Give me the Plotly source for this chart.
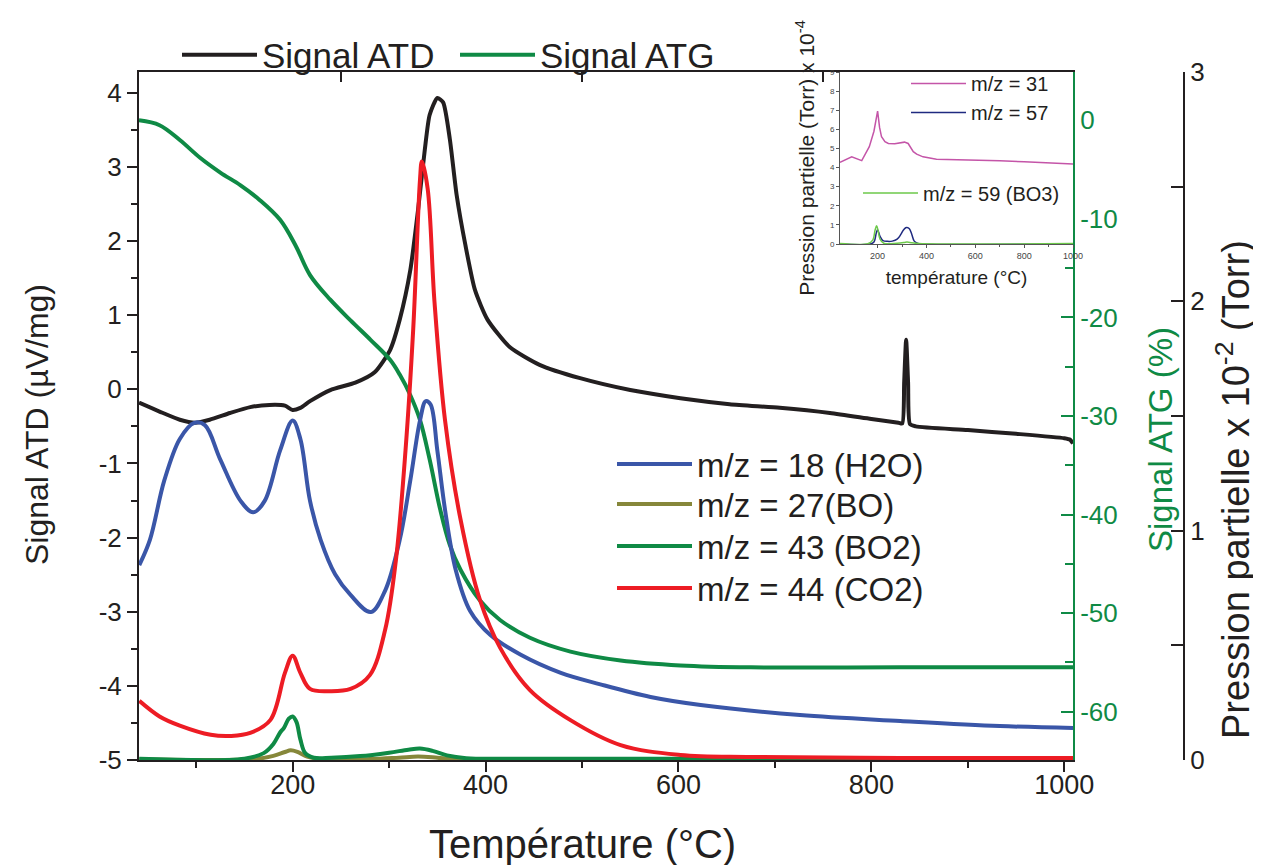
import plotly.graph_objects as go

# ---------------- data ----------------
# DTA signal (µV/mg)
T_atd = [40.7, 62, 83, 99, 114, 135, 156, 176, 192, 200, 208, 218, 239, 265, 285, 301, 311, 322, 330, 337, 342,
         350, 356, 363, 370, 379, 389, 402, 425, 456, 498, 550, 602, 653, 705, 757, 800, 828, 832, 834, 836,
         838, 840, 846, 900, 950, 1000, 1006, 1009]
atd = [-0.18, -0.30, -0.41, -0.45, -0.41, -0.32, -0.24, -0.21, -0.22, -0.28, -0.25, -0.16, -0.01, 0.09, 0.23, 0.53,
       0.94, 1.61, 2.42, 3.23, 3.70, 3.93, 3.87, 3.37, 2.62, 1.95, 1.34, 0.94, 0.57, 0.33, 0.15, -0.01, -0.12, -0.20,
       -0.25, -0.32, -0.40, -0.45, -0.46, 0.1, 0.67, 0.1, -0.47, -0.50, -0.55, -0.60, -0.66, -0.68, -0.73]

# TGA signal (%)
T_atg = [40.7, 62, 83, 104, 125, 146, 166, 187, 203, 218, 239, 260, 281, 301, 311, 322, 332, 342, 353, 363, 374,
         394, 415, 446, 488, 540, 602, 675, 830, 1009]
atg = [0.0, -0.5, -2.0, -3.8, -5.3, -6.6, -8.1, -10.1, -12.7, -15.7, -18.2, -20.3, -22.3, -24.3, -25.8, -27.9,
       -30.4, -34.4, -39.5, -43.1, -45.6, -48.7, -50.7, -52.5, -53.9, -54.8, -55.3, -55.5, -55.5, -55.5]

# Mass spectrometry, partial pressure x 1e-2 Torr
T_h2o = [41, 52, 67, 83, 98, 109, 125, 146, 159, 171, 187, 200, 208, 218, 229, 244, 260, 281, 296, 311, 322, 332,
         338, 343, 350, 358, 369, 384, 405, 436, 478, 519, 571, 623, 726, 830, 933, 1009]
p_h2o = [0.85, 0.96, 1.22, 1.40, 1.47, 1.46, 1.31, 1.13, 1.08, 1.13, 1.35, 1.48, 1.40, 1.13, 0.96, 0.81, 0.72,
         0.645, 0.74, 0.96, 1.22, 1.48, 1.565, 1.55, 1.35, 1.09, 0.83, 0.65, 0.545, 0.46, 0.38, 0.33, 0.275, 0.24,
         0.196, 0.17, 0.148, 0.14]

T_bo = [41, 160, 180, 192, 198, 205, 215, 230, 280, 310, 330, 350, 370, 1009]
p_bo = [0.003, 0.004, 0.018, 0.035, 0.042, 0.035, 0.015, 0.004, 0.004, 0.01, 0.015, 0.01, 0.003, 0.003]

T_bo2 = [41, 150, 170, 180, 187, 191, 196, 200, 204, 208, 213, 222, 240, 270, 300, 320, 332, 345, 360, 380, 420, 1009]
p_bo2 = [0.005, 0.006, 0.03, 0.07, 0.12, 0.14, 0.18, 0.19, 0.165, 0.09, 0.03, 0.01, 0.01, 0.017, 0.032, 0.045,
         0.05, 0.04, 0.02, 0.008, 0.005, 0.005]

T_co2 = [41, 62, 83, 115, 136, 156, 177, 192, 200, 208, 218, 239, 260, 280, 296, 307, 317, 325, 332, 334, 340, 347,
         358, 374, 394, 415, 446, 488, 540, 602, 675, 830, 1009]
p_co2 = [0.258, 0.19, 0.15, 0.11, 0.105, 0.118, 0.175, 0.38, 0.455, 0.38, 0.31, 0.30, 0.31, 0.37, 0.57, 0.87, 1.35,
         1.88, 2.53, 2.61, 2.49, 2.0, 1.48, 1.05, 0.70, 0.49, 0.305, 0.174, 0.065, 0.022, 0.013, 0.009, 0.009]

# Inset, partial pressure x 1e-4 Torr
T_31 = [46, 94, 135, 166, 185, 200, 208, 216, 230, 244, 270, 291, 310, 325, 335, 346, 360, 386, 441, 520, 618, 700,
        800, 890, 950, 1000]
p_31 = [4.27, 4.56, 4.36, 5.09, 5.9, 6.95, 6.1, 5.61, 5.35, 5.26, 5.25, 5.30, 5.33, 5.26, 5.05, 4.83, 4.70, 4.56,
        4.43, 4.42, 4.39, 4.36, 4.30, 4.25, 4.20, 4.18]
T_57 = [46, 170, 185, 195, 200, 210, 222, 240, 260, 280, 295, 305, 315, 320, 330, 340, 350, 365, 380, 1000]
p_57 = [0.0, 0.0, 0.1, 0.6, 0.75, 0.4, 0.18, 0.14, 0.15, 0.25, 0.5, 0.72, 0.85, 0.86, 0.8, 0.5, 0.15, 0.03, 0.0, 0.0]
T_59 = [46, 160, 180, 190, 196, 202, 210, 225, 280, 310, 320, 340, 370, 1000]
p_59 = [0.02, 0.02, 0.2, 0.75, 0.95, 0.7, 0.25, 0.04, 0.04, 0.08, 0.1, 0.07, 0.03, 0.02]

main_ticks = [200, 400, 600, 800, 1000]
atd_ticks = [-5, -4, -3, -2, -1, 0, 1, 2, 3, 4]
atd_ticktext = ["-5", "-4", "-3", "-2", "-1", "0", "1", "2", "3", "4"]
atg_ticks = [0, -10, -20, -30, -40, -50, -60]
atg_ticktext = ["0", "-10", "-20", "-30", "-40", "-50", "-60"]
p_tickvals = [0, 1, 2, 3]
inset_xticks = [200, 400, 600, 800, 1000]

# ---------------- styling ----------------
BLACK = "#231f20"
GREEN = "#0f8a45"
BLUE = "#3a56a8"
OLIVE = "#86873a"
GREEN2 = "#0f8a45"
RED = "#ed1c24"
MAGENTA = "#c455a8"
NAVY = "#1f2a80"
LGREEN = "#6cc84a"
FONT = "Arial"

# the page body has an 8px margin: work in screen pixels and shift
OFF = 8
W, H = 1261 - OFF, 865 - OFF
L = 139 - OFF           # screen x of left axis = 139
T = 72 - OFF            # screen y of top axis = 72
B = H - (760 - OFF)     # screen y of bottom axis = 760
R = 10
PW = W - L - R
PH = H - T - B


def px(xs):
    return (xs - OFF - L) / PW


def py(ys):
    return (H - B - (ys - OFF)) / PH


fig = go.Figure()

fig.add_trace(go.Scatter(x=T_atg, y=atg, mode="lines", name="Signal ATG", line=dict(color=GREEN, width=4),
                         xaxis="x", yaxis="y2", legend="legend", legendrank=2, line_shape="spline"))
fig.add_trace(go.Scatter(x=T_atd, y=atd, mode="lines", name="Signal ATD",
                         line=dict(color=BLACK, width=4, shape="spline", smoothing=0.6),
                         xaxis="x", yaxis="y", legend="legend", legendrank=1))
fig.add_trace(go.Scatter(x=T_h2o, y=p_h2o, mode="lines", name="m/z = 18 (H2O)", line=dict(color=BLUE, width=4),
                         xaxis="x", yaxis="y3", legend="legend2", line_shape="spline"))
fig.add_trace(go.Scatter(x=T_bo, y=p_bo, mode="lines", name="m/z = 27(BO)", line=dict(color=OLIVE, width=4),
                         xaxis="x", yaxis="y3", legend="legend5", line_shape="spline"))
fig.add_trace(go.Scatter(x=T_bo2, y=p_bo2, mode="lines", name="m/z = 43 (BO2)", line=dict(color=GREEN2, width=4),
                         xaxis="x", yaxis="y3", legend="legend6", line_shape="spline"))
fig.add_trace(go.Scatter(x=T_co2, y=p_co2, mode="lines", name="m/z = 44 (CO2)", line=dict(color=RED, width=4),
                         xaxis="x", yaxis="y3", legend="legend7", line_shape="spline"))
# dummy trace for the top axis
fig.add_trace(go.Scatter(x=[None], y=[None], xaxis="x2", yaxis="y", showlegend=False, hoverinfo="skip"))

# inset
fig.add_trace(go.Scatter(x=T_31, y=p_31, mode="lines", name="m/z = 31", line=dict(color=MAGENTA, width=1.5),
                         xaxis="x3", yaxis="y4", legend="legend3"))
fig.add_trace(go.Scatter(x=T_57, y=p_57, mode="lines", name="m/z = 57", line=dict(color=NAVY, width=1.5),
                         xaxis="x3", yaxis="y4", legend="legend3", line_shape="spline"))
fig.add_trace(go.Scatter(x=T_59, y=p_59, mode="lines", name="m/z = 59 (BO3)", line=dict(color=LGREEN, width=1.5),
                         xaxis="x3", yaxis="y4", legend="legend4", line_shape="spline"))


def ms_legend(ycenter):
    return dict(x=px(612), xanchor="left", y=py(ycenter), yanchor="middle", bgcolor="rgba(0,0,0,0)",
                font=dict(size=33), itemwidth=75)


XD = px(1073)
fig.update_layout(
    width=W, height=H,
    margin=dict(l=L, r=R, t=T, b=B, autoexpand=False),
    paper_bgcolor="white", plot_bgcolor="white",
    font=dict(family=FONT, color=BLACK, size=26),
    xaxis=dict(domain=[0, XD], range=[40.7, 1009], tickvals=main_ticks, ticks="outside", ticklen=10,
               tickwidth=2, tickcolor=BLACK, showline=True, linewidth=2, linecolor=BLACK, showgrid=False,
               zeroline=False, tickfont=dict(size=27), ticklabelstandoff=-10, automargin=False,
               minor=dict(tickvals=[100, 300, 500, 700, 900], ticks="outside", ticklen=6, tickwidth=2,
                          tickcolor=BLACK, showgrid=False)),
    xaxis2=dict(overlaying="x", side="top", range=[40.7, 1009], tickvals=[250, 500, 750, 1000], ticks="inside",
                ticklen=10, tickwidth=2, tickcolor=BLACK, showticklabels=False, showline=True, linewidth=2,
                linecolor=BLACK, showgrid=False, zeroline=False, automargin=False),
    yaxis=dict(range=[-5, 4.28], tickvals=atd_ticks, ticktext=atd_ticktext, ticks="outside", ticklen=10,
               tickwidth=2, tickcolor=BLACK, automargin=False,
               showline=True, linewidth=2, linecolor=BLACK, showgrid=False, zeroline=False,
               tickfont=dict(size=26),
               minor=dict(dtick=0.5, tick0=0, ticks="outside", ticklen=6, tickwidth=2, tickcolor=BLACK,
                          showgrid=False)),
    yaxis2=dict(overlaying="y", side="right", anchor="x", range=[-64.9, 4.9], tickvals=atg_ticks,
                ticktext=atg_ticktext, ticks="inside", automargin=False,
                ticklen=12, tickwidth=2, tickcolor=GREEN, showline=True, linewidth=2, linecolor=GREEN,
                showgrid=False, zeroline=False, tickfont=dict(size=26, color=GREEN),
                minor=dict(dtick=5, tick0=0, ticks="inside", ticklen=8, tickwidth=2, tickcolor=GREEN,
                           showgrid=False)),
    yaxis3=dict(overlaying="y", side="right", anchor="free", position=px(1184), range=[0, 3],
                tickvals=p_tickvals, ticks="inside", ticklen=12, tickwidth=2,
                tickcolor=BLACK, showline=True, linewidth=2, linecolor=BLACK, showgrid=False, zeroline=False,
                tickfont=dict(size=26), automargin=False,
                minor=dict(dtick=0.5, tick0=0, ticks="inside", ticklen=12, tickwidth=2, tickcolor=BLACK,
                           showgrid=False)),
    xaxis3=dict(domain=[px(840), XD], anchor="y4", range=[46, 1000], tickvals=inset_xticks,
                ticks="outside", ticklen=3, tickwidth=1, tickcolor="#555", showline=True, linewidth=1,
                linecolor="#555", showgrid=False, zeroline=False, tickfont=dict(size=9, color="#444"),
                automargin=False,
                minor=dict(tickvals=[300, 500, 700, 900], ticks="outside", ticklen=2, tickcolor="#555",
                           showgrid=False),
                title=dict(text="température (°C)", font=dict(size=19), standoff=10)),
    yaxis4=dict(domain=[py(244), 1.0], anchor="x3", range=[0, 9], dtick=1, ticks="outside", ticklen=3,
                tickwidth=1, automargin=False,
                tickcolor="#555", showline=True, linewidth=1, linecolor="#555", showgrid=False, zeroline=False,
                tickfont=dict(size=8, color="#444"),
                title=dict(text="Pression partielle (Torr) x 10<sup>-4</sup>", font=dict(size=21), standoff=9)),
    legend=dict(orientation="h", x=px(177), xanchor="left", y=py(55), yanchor="middle", bgcolor="rgba(0,0,0,0)",
                font=dict(size=35), itemwidth=75, traceorder="normal", entrywidth=188),
    legend2=ms_legend(464),
    legend5=ms_legend(504),
    legend6=ms_legend(546),
    legend7=ms_legend(588),
    legend3=dict(x=px(906), xanchor="left", y=py(98), yanchor="middle", bgcolor="rgba(0,0,0,0)",
                 font=dict(size=20), itemwidth=55),
    legend4=dict(x=px(858), xanchor="left", y=py(193), yanchor="middle", bgcolor="rgba(0,0,0,0)",
                 font=dict(size=20), itemwidth=55),
    annotations=[
        dict(text="Température (°C)", xref="paper", yref="paper", x=px(582), y=py(844),
             xanchor="center", yanchor="middle", showarrow=False, font=dict(size=40, color=BLACK)),
        dict(text="Signal ATD (µV/mg)", textangle=-90, xref="paper", yref="paper", x=px(37), y=py(425),
             xanchor="center", yanchor="middle", showarrow=False, font=dict(size=32, color=BLACK)),
        dict(text="Signal ATG (%)", textangle=-90, xref="paper", yref="paper", x=px(1160), y=py(440),
             xanchor="center", yanchor="middle", showarrow=False, font=dict(size=33, color=GREEN)),
        dict(text="Pression partielle x 10<sup>-2</sup> (Torr)", textangle=-90, xref="paper", yref="paper",
             x=px(1259), y=py(490), xanchor="right", yanchor="middle", showarrow=False,
             font=dict(size=38, color=BLACK)),
    ],
)

fig.write_html("out.html")
